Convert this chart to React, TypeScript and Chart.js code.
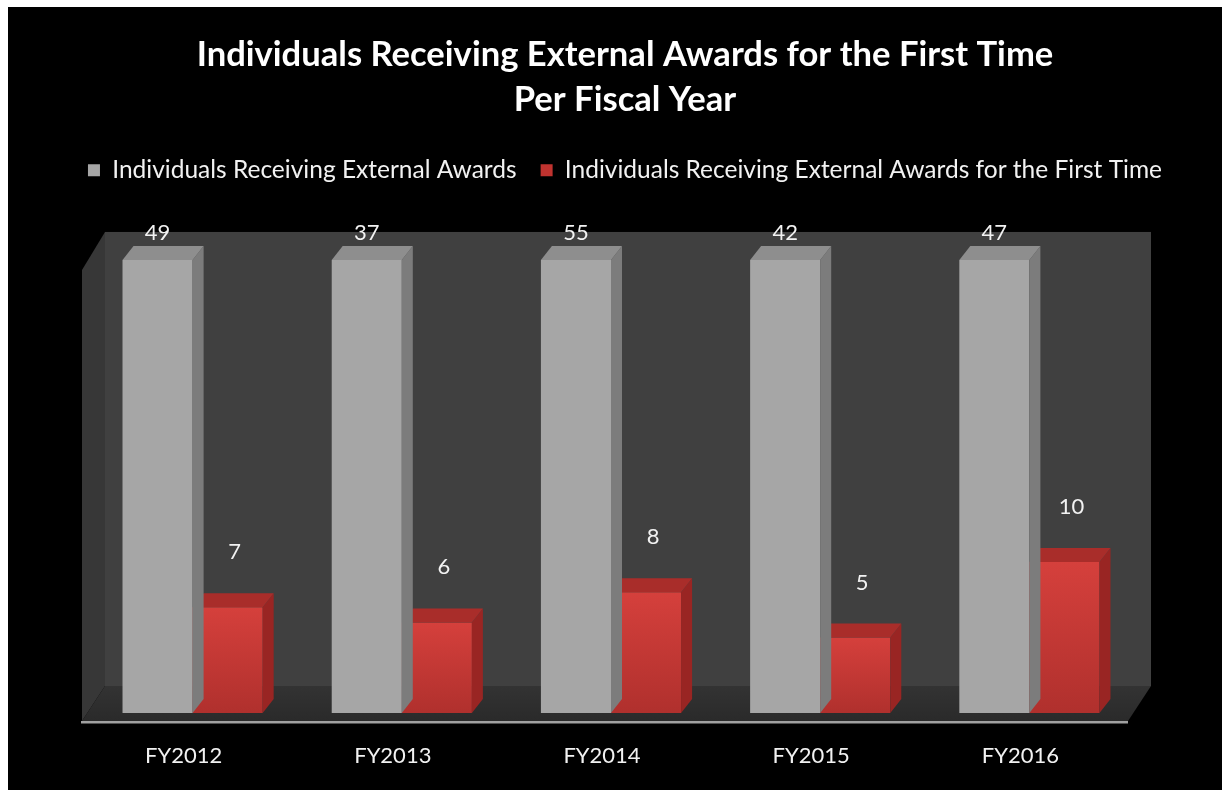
import React, { useEffect, useRef } from "react";
import { Chart, registerables } from "chart.js";

Chart.register(...registerables);

const categories = ["FY2012", "FY2013", "FY2014", "FY2015", "FY2016"];
const allAwards = [49, 37, 55, 42, 47];
const firstTime = [7, 6, 8, 5, 10];
const seriesNames = [
  "Individuals Receiving External Awards",
  "Individuals Receiving External Awards for the First Time",
];
const titleLines = [
  "Individuals Receiving External Awards for the First Time",
  "Per Fiscal Year",
];
const yMin = 0;
const yMax = 30;

const FONT = "Lato, 'Open Sans', sans-serif";
const DX = 11;
const DY = 14;

function poly(ctx: CanvasRenderingContext2D, pts: number[][], fill: string | CanvasGradient) {
  ctx.beginPath();
  ctx.moveTo(pts[0][0], pts[0][1]);
  for (let i = 1; i < pts.length; i++) ctx.lineTo(pts[i][0], pts[i][1]);
  ctx.closePath();
  ctx.fillStyle = fill;
  ctx.fill();
}

const stagePlugin = {
  id: "stage3d",
  beforeDatasetsDraw(chart: any) {
    const { ctx, chartArea: ca } = chart;
    const L = ca.left - 6;
    const B = ca.left + 17;
    const R = ca.right + 17;
    const FR = ca.right - 6;
    const top = ca.top - 28;
    const backBottom = ca.bottom - 27;
    const front = ca.bottom + 8;
    const leftTop = ca.top + 10;
    ctx.save();
    ctx.fillStyle = "#404040";
    ctx.fillRect(B, top, R - B, backBottom - top);
    poly(ctx, [[L, leftTop], [B, top], [B, backBottom], [L, front]], "#373737");
    const fg = ctx.createLinearGradient(0, backBottom, 0, front);
    fg.addColorStop(0, "#333333");
    fg.addColorStop(1, "#2a2a2a");
    poly(ctx, [[L, front], [B, backBottom], [R, backBottom], [FR, front]], fg);
    ctx.fillStyle = "#a0a0a0";
    ctx.fillRect(L - 1, front, FR - L + 1, 2);
    ctx.fillStyle = "#505050";
    ctx.fillRect(L - 1, front + 2, FR - L + 1, 1);
    ctx.restore();
  },
  afterDatasetDraw(chart: any, args: any) {
    const meta = chart.getDatasetMeta(args.index);
    const ca = chart.chartArea;
    const ctx = chart.ctx;
    const gray = args.index === 0;
    ctx.save();
    meta.data.forEach((el: any) => {
      const { x, y, width, base } = el.getProps(["x", "y", "width", "base"], true);
      const l = x - width / 2;
      const r = x + width / 2;
      const t = Math.max(y, ca.top);
      poly(ctx, [[r, t], [r + DX, t - DY], [r + DX, base - DY], [r, base]], gray ? "#7c7c7c" : "#992523");
      poly(ctx, [[l, t], [l + DX, t - DY], [r + DX, t - DY], [r, t]], gray ? "#8e8e8e" : "#a92d2a");
    });
    ctx.restore();
  },
  afterDatasetsDraw(chart: any) {
    const ctx = chart.ctx;
    const ca = chart.chartArea;
    ctx.save();
    ctx.fillStyle = "#f2f2f2";
    ctx.font = `22px ${FONT}`;
    ctx.textAlign = "center";
    ctx.textBaseline = "middle";
    chart.data.datasets.forEach((ds: any, di: number) => {
      const meta = chart.getDatasetMeta(di);
      meta.data.forEach((el: any, i: number) => {
        const { x, y } = el.getProps(["x", "y"], true);
        const t = Math.max(y, ca.top);
        const ly = di === 0 ? ca.top - 27 : t - 55;
        const lx = di === 0 ? x : x + 7;
        ctx.fillText(String(ds.data[i]), lx, ly);
      });
    });
    ctx.restore();
  },
};

export default function App() {
  const ref = useRef<HTMLCanvasElement | null>(null);
  useEffect(() => {
    if (!ref.current) return;
    const chart = new Chart(ref.current, {
      type: "bar",
      data: {
        labels: categories,
        datasets: [
          {
            label: seriesNames[0],
            data: allAwards,
            backgroundColor: "#a6a6a6",
            borderWidth: 0,
            clip: 0,
            categoryPercentage: 0.67,
            barPercentage: 1.0,
          } as any,
          {
            label: seriesNames[1],
            data: firstTime,
            backgroundColor: (c: any) => {
              const chart = c.chart;
              const ca = chart.chartArea;
              if (!ca || c.raw == null) return "#c9393a";
              const yS = chart.scales.y;
              const top = yS.getPixelForValue(c.raw);
              const g = chart.ctx.createLinearGradient(0, top, 0, ca.bottom);
              g.addColorStop(0, "#d5403c");
              g.addColorStop(1, "#b0302d");
              return g;
            },
            borderWidth: 0,
            categoryPercentage: 0.67,
            barPercentage: 1.0,
          } as any,
        ],
      },
      options: {
        responsive: false,
        devicePixelRatio: 1,
        animation: false,
        layout: { padding: { left: 20, right: 0, top: 0, bottom: 0 } },
        plugins: {
          title: {
            display: true,
            text: titleLines,
            color: "#ffffff",
            font: { family: FONT, size: 34.6, weight: "bold", lineHeight: 1.3 },
            padding: { top: 25, bottom: 12 },
          },
          subtitle: {
            display: true,
            text: "",
            weight: 500,
            font: { family: FONT, size: 10, lineHeight: 1 },
            padding: { top: 57.5, bottom: 0 },
          },
          legend: {
            display: true,
            labels: {
              color: "#f2f2f2",
              font: { family: FONT, size: 24.5 },
              boxWidth: 12,
              boxHeight: 12,
              padding: 24,
              generateLabels: (ch: any) =>
                ch.data.datasets.map((ds: any, i: number) => ({
                  text: ds.label,
                  fillStyle: i === 0 ? "#a6a6a6" : "#c0332f",
                  strokeStyle: "transparent",
                  lineWidth: 0,
                  fontColor: "#f2f2f2",
                  datasetIndex: i,
                  hidden: false,
                })),
            },
          },
          tooltip: { enabled: false },
        },
        scales: {
          x: {
            grid: { display: false },
            border: { display: false },
            ticks: {
              color: "#f2f2f2",
              font: { family: FONT, size: 22 },
              padding: 22,
              labelOffset: -9,
            },
            afterFit: (s: any) => {
              s.height = 77;
            },
          },
          y: {
            position: "right",
            min: yMin,
            max: yMax,
            grid: { display: false },
            border: { display: false },
            ticks: { display: false },
            afterFit: (s: any) => {
              s.width = 88;
            },
          },
          yLeft: {
            type: "linear",
            position: "left",
            min: yMin,
            max: yMax,
            grid: { display: false },
            border: { display: false },
            ticks: { display: false },
            afterFit: (s: any) => {
              s.width = 60;
            },
          },
        },
      } as any,
      plugins: [stagePlugin as any],
    });
    return () => chart.destroy();
  }, []);
  return (
    <canvas
      ref={ref}
      width={1214}
      height={783}
      style={{ position: "fixed", left: 8, top: 7, width: 1214, height: 783, background: "#000" }}
    />
  );
}
